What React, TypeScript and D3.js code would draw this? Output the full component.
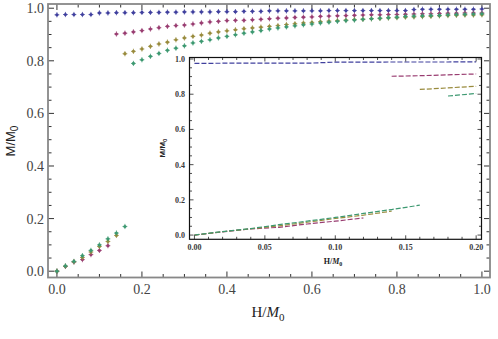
import React from "react";
import * as d3 from "d3";

// H/M0 grid shared by every series
const fields = [
  0.0, 0.02, 0.04, 0.06, 0.08, 0.1, 0.12, 0.14, 0.16, 0.18, 0.2, 0.22, 0.24, 0.26, 0.28, 0.3, 0.32,
  0.34, 0.36, 0.38, 0.4, 0.42, 0.44, 0.46, 0.48, 0.5, 0.52, 0.54, 0.56, 0.58, 0.6, 0.62, 0.64, 0.66,
  0.68, 0.7, 0.72, 0.74, 0.76, 0.78, 0.8, 0.82, 0.84, 0.86, 0.88, 0.9, 0.92, 0.94, 0.96, 0.98, 1.0,
];

const blueM = [
  0.975, 0.976, 0.976, 0.976, 0.976, 0.982, 0.982, 0.983, 0.983, 0.983, 0.984, 0.984, 0.984, 0.985,
  0.985, 0.986, 0.986, 0.986, 0.986, 0.987, 0.987, 0.987, 0.988, 0.988, 0.988, 0.99, 0.99, 0.99,
  0.99, 0.99, 0.99, 0.99, 0.991, 0.991, 0.991, 0.991, 0.991, 0.991, 0.991, 0.991, 0.991, 0.991,
  0.995, 0.996, 0.996, 0.996, 0.996, 0.996, 0.996, 0.996, 0.997,
];

const purpleM = [
  0.0, 0.018, 0.035, 0.044, 0.063, 0.079, 0.097,
  0.902, 0.905, 0.91, 0.915, 0.921, 0.926, 0.931, 0.934, 0.936, 0.94, 0.944, 0.948, 0.95, 0.953,
  0.954, 0.954, 0.956, 0.958, 0.96, 0.962, 0.963, 0.965, 0.966, 0.967, 0.969, 0.97, 0.971, 0.972,
  0.973, 0.974, 0.975, 0.975, 0.976, 0.976, 0.977, 0.978, 0.979, 0.979, 0.98, 0.981, 0.981, 0.982,
  0.982, 0.982,
];

const goldM = [
  0.0, 0.019, 0.036, 0.052, 0.073, 0.094, 0.113, 0.136,
  0.827, 0.836, 0.845, 0.855, 0.864, 0.871, 0.88, 0.887, 0.893, 0.898, 0.905, 0.91, 0.914, 0.918,
  0.922, 0.925, 0.928, 0.931, 0.934, 0.938, 0.941, 0.944, 0.946, 0.949, 0.951, 0.953, 0.955, 0.957,
  0.958, 0.96, 0.961, 0.963, 0.964, 0.966, 0.967, 0.968, 0.969, 0.971, 0.972, 0.973, 0.974, 0.974,
  0.975,
];

const greenM = [
  0.0, 0.02, 0.037, 0.059, 0.079, 0.1, 0.123, 0.145, 0.17,
  0.79, 0.804, 0.817, 0.828, 0.84, 0.848, 0.857, 0.868, 0.874, 0.88, 0.887, 0.893, 0.899, 0.905,
  0.91, 0.915, 0.921, 0.925, 0.929, 0.933, 0.937, 0.94, 0.944, 0.947, 0.95, 0.953, 0.955, 0.958,
  0.96, 0.962, 0.964, 0.966, 0.969, 0.97, 0.971, 0.972, 0.973, 0.975, 0.976, 0.977, 0.978, 0.979,
];

const seriesList = [
  { name: "blue", color: "#40409e", values: blueM },
  { name: "purple", color: "#993d71", values: purpleM },
  { name: "gold", color: "#998b3d", values: goldM },
  { name: "green", color: "#3d9971", values: greenM },
];

const mainTicks = [0, 0.2, 0.4, 0.6, 0.8, 1.0];
const insetXTicks = [0, 0.05, 0.1, 0.15, 0.2];
const insetYTicks = [0, 0.2, 0.4, 0.6, 0.8, 1.0];

const W = 498,
  H = 339;

// main frame
const x = d3.scaleLinear().domain([-0.021, 1.019]).range([48, 490]);
const y = d3.scaleLinear().domain([-0.024, 1.016]).range([277.5, 4]);

// inset frame
const xi = d3.scaleLinear().domain([-0.0035, 0.2038]).range([189.5, 481.5]);
const yi = d3.scaleLinear().domain([-0.024, 1.0085]).range([239.3, 57.5]);

// split a series where it jumps from the low branch to the high one
function segments(values: number[], maxX: number) {
  const out: [number, number][][] = [];
  let cur: [number, number][] = [];
  values.forEach((v, i) => {
    if (fields[i] > maxX) return;
    if (cur.length && Math.abs(v - cur[cur.length - 1][1]) > 0.3) {
      out.push(cur);
      cur = [];
    }
    cur.push([fields[i], v]);
  });
  if (cur.length) out.push(cur);
  return out;
}

function minorTicks(domain: number[], step: number) {
  const r: number[] = [];
  const n = Math.round((domain[1] - domain[0]) / step);
  for (let i = 0; i <= n; i++) r.push(+(domain[0] + i * step).toFixed(4));
  return r;
}

const App = () => {
  const insetLine = d3
    .line<[number, number]>()
    .x((d) => xi(d[0]))
    .y((d) => yi(d[1]));

  const xMinor = minorTicks([0, 1], 0.05);
  const yMinor = minorTicks([0, 1], 0.05);
  const xiMinor = minorTicks([0, 0.2], 0.01);
  const yiMinor = minorTicks([0, 1], 0.05);

  const [x0, x1] = x.range();
  const [y0, y1] = y.range();
  const [xi0, xi1] = xi.range();
  const [yi0, yi1] = yi.range();

  return (
    <svg
      width={W}
      height={H}
      style={{ position: "absolute", left: 0, top: 0, background: "white" }}
    >
      {/* main ticks */}
      <g stroke="#333" strokeWidth={1}>
        {xMinor.map((t, i) => {
          const len = mainTicks.some((m) => Math.abs(m - t) < 1e-6) ? 6 : 3.5;
          return (
            <g key={"xm" + i}>
              <line x1={x(t)} x2={x(t)} y1={y0} y2={y0 - len} />
              <line x1={x(t)} x2={x(t)} y1={y1} y2={y1 + len} />
            </g>
          );
        })}
        {yMinor.map((t, i) => {
          const len = mainTicks.some((m) => Math.abs(m - t) < 1e-6) ? 6 : 3.5;
          return (
            <g key={"ym" + i}>
              <line x1={x0} x2={x0 + len} y1={y(t)} y2={y(t)} />
              <line x1={x1} x2={x1 - len} y1={y(t)} y2={y(t)} />
            </g>
          );
        })}
      </g>
      <rect
        x={x0}
        y={y1}
        width={x1 - x0}
        height={y0 - y1}
        fill="none"
        stroke="#888"
        strokeWidth={1.8}
      />

      {/* main tick labels */}
      <g fontFamily="Liberation Serif, Times New Roman, serif" fontSize={14} fill="#444">
        {mainTicks.map((t) => (
          <text key={"xl" + t} x={x(t)} y={294} textAnchor="middle">
            {d3.format(".1f")(t)}
          </text>
        ))}
        {mainTicks.map((t) => (
          <text key={"yl" + t} x={44} y={y(t) + 5} textAnchor="end">
            {d3.format(".1f")(t)}
          </text>
        ))}
      </g>

      {/* axis titles */}
      <text
        x={268}
        y={317}
        textAnchor="middle"
        fontFamily="Liberation Serif, Times New Roman, serif"
        fontSize={15}
        fill="#222"
      >
        H/<tspan fontStyle="italic">M</tspan>
        <tspan fontSize={11} dy={4}>
          0
        </tspan>
      </text>
      <text
        transform="translate(15,141) rotate(-90)"
        textAnchor="middle"
        fontFamily="Liberation Sans, Arial, sans-serif"
        fontSize={13}
        fill="#222"
      >
        M/M
        <tspan fontSize={10} dy={3}>
          0
        </tspan>
      </text>

      {/* main data points: small Mathematica-style dots */}
      {seriesList.map((s) => (
        <g key={s.name} fill={s.color} stroke={s.color} strokeWidth={0.8}>
          {s.values.map((v, i) => (
            <g key={i}>
              <circle cx={x(fields[i])} cy={y(v)} r={1.6} strokeWidth={0} />
              <line x1={x(fields[i])} x2={x(fields[i])} y1={y(v) - 2.6} y2={y(v) + 2.6} />
              <line x1={x(fields[i]) - 2.4} x2={x(fields[i]) + 2.4} y1={y(v)} y2={y(v)} />
            </g>
          ))}
        </g>
      ))}

      {/* inset */}
      <rect x={xi0} y={yi1} width={xi1 - xi0} height={yi0 - yi1} fill="white" />
      <defs>
        <clipPath id="insetClip">
          <rect x={xi0} y={yi1} width={xi1 - xi0} height={yi0 - yi1} />
        </clipPath>
      </defs>
      <g clipPath="url(#insetClip)" fill="none" strokeWidth={1.2} strokeDasharray="5,2">
        {seriesList.map((s) =>
          segments(s.values, 0.2).map((seg, j) => (
            <path key={s.name + j} d={insetLine(seg) || ""} stroke={s.color} />
          ))
        )}
      </g>
      <g stroke="#222" strokeWidth={0.8}>
        {xiMinor.map((t, i) => {
          const len = insetXTicks.some((m) => Math.abs(m - t) < 1e-6) ? 4 : 2.5;
          return (
            <g key={"xim" + i}>
              <line x1={xi(t)} x2={xi(t)} y1={yi0} y2={yi0 - len} />
              <line x1={xi(t)} x2={xi(t)} y1={yi1} y2={yi1 + len} />
            </g>
          );
        })}
        {yiMinor.map((t, i) => {
          const len = insetYTicks.some((m) => Math.abs(m - t) < 1e-6) ? 4 : 2.5;
          return (
            <g key={"yim" + i}>
              <line x1={xi0} x2={xi0 + len} y1={yi(t)} y2={yi(t)} />
              <line x1={xi1} x2={xi1 - len} y1={yi(t)} y2={yi(t)} />
            </g>
          );
        })}
      </g>
      <rect
        x={xi0}
        y={yi1}
        width={xi1 - xi0}
        height={yi0 - yi1}
        fill="none"
        stroke="#111"
        strokeWidth={1.2}
      />
      <g
        fontFamily="Liberation Serif, Times New Roman, serif"
        fontSize={8}
        fontWeight="bold"
        fill="#3a3a3a"
      >
        {insetXTicks.map((t) => (
          <text key={"xil" + t} x={xi(t)} y={249.5} textAnchor="middle">
            {d3.format(".2f")(t)}
          </text>
        ))}
        {insetYTicks.map((t) => (
          <text key={"yil" + t} x={185} y={yi(t) + 3} textAnchor="end">
            {d3.format(".1f")(t)}
          </text>
        ))}
      </g>
      <text
        x={333}
        y={264}
        textAnchor="middle"
        fontFamily="Liberation Serif, Times New Roman, serif"
        fontSize={8}
        fontWeight="bold"
        fill="#222"
      >
        H/<tspan fontStyle="italic">M</tspan>
        <tspan fontSize={6} dy={2}>
          0
        </tspan>
      </text>
      <text
        transform="translate(165,148) rotate(-90)"
        textAnchor="middle"
        fontFamily="Liberation Sans, Arial, sans-serif"
        fontSize={8}
        fontWeight="bold"
        fill="#222"
      >
        M/M
        <tspan fontSize={6} dy={2}>
          0
        </tspan>
      </text>
    </svg>
  );
};

export default App;
